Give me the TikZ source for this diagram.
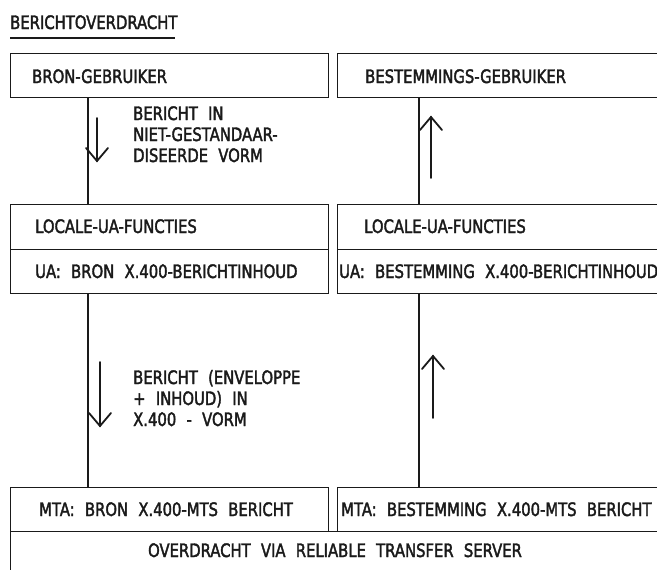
\documentclass[tikz,border=0pt]{standalone}
\usepackage{fontspec}
\setmainfont{DejaVu Sans}[FakeStretch=0.8, FakeBold=2]
\usetikzlibrary{calc}
\definecolor{ink}{HTML}{1A1A1A}
\newcommand{\gap}{\hspace{0.3em} }
\tikzset{
  box/.style={draw=ink, line width=1.3pt, rectangle, inner sep=0pt, anchor=north west},
  txt/.style={text=ink, inner sep=0pt, anchor=base west, font=\fontsize{18.5}{21}\selectfont},
  lbl/.style={txt, align=left},
  wire/.style={draw=ink, line width=1.3pt},
  flow/.style={draw=ink, line width=1.8pt, line cap=round, line join=miter}
}
% open V arrowhead: #1 = tip, #2 = +1 for a tip pointing down, -1 for up
\newcommand{\vhead}[2]{\draw[flow] ($(#1)+(-11,-13*#2)$) -- (#1) -- ($(#1)+(11,-13*#2)$);}
\begin{document}
\begin{tikzpicture}[x=1pt,y=-1pt]
\useasboundingbox (0,0) rectangle (657,570);
\fill[white] (0,0) rectangle (657,570);

% heading with its underline
\node[txt] (title) at (10,29) {BERICHTOVERDRACHT};
\coordinate (ulA) at (10,38);
\coordinate (ulB) at (175,38);
\draw[wire] (ulA) -- (ulB);

% user level
\node[box, minimum width=318, minimum height=44] (bron) at (10,53) {};
\node[box, minimum width=328, minimum height=44] (best) at (337,53) {};
\node[txt] (bronT) at (32,83) {BRON-GEBRUIKER};
\node[txt] (bestT) at (365,83) {BESTEMMINGS-GEBRUIKER};

% user agent level
\node[box, minimum width=318, minimum height=45] (locL) at (10,204) {};
\node[box, minimum width=318, minimum height=44] (uaL) at (10,249) {};
\node[box, minimum width=328, minimum height=45] (locR) at (337,204) {};
\node[box, minimum width=328, minimum height=44] (uaR) at (337,249) {};
\node[txt] (locLT) at (35,233) {LOCALE-UA-FUNCTIES};
\node[txt] (uaLT) at (35,278) {UA:\gap BRON\gap X.400-BERICHTINHOUD};
\node[txt] (locRT) at (364,233) {LOCALE-UA-FUNCTIES};
\node[txt] (uaRT) at (339,278) {UA:\gap BESTEMMING\gap X.400-BERICHTINHOUD};

% message transfer level
\node[box, minimum width=318, minimum height=44] (mtaL) at (10,487) {};
\node[box, minimum width=328, minimum height=44] (mtaR) at (337,487) {};
\node[box, minimum width=655, minimum height=60] (rts) at (10,531) {};
\node[txt] (mtaLT) at (39,516) {MTA:\gap BRON\gap X.400-MTS\gap BERICHT};
\node[txt] (mtaRT) at (341,516) {MTA:\gap BESTEMMING\gap X.400-MTS\gap BERICHT};
\node[txt, anchor=base] (rtsT) at (335,557) {OVERDRACHT\gap VIA\gap RELIABLE\gap TRANSFER\gap SERVER};

% vertical links between the levels
\coordinate (xl) at (88,0);
\coordinate (xr) at (419,0);
\draw[wire] (bron.south -| xl) -- (locL.north -| xl);
\draw[wire] (uaL.south -| xl) -- (mtaL.north -| xl);
\draw[wire] (best.south -| xr) -- (locR.north -| xr);
\draw[wire] (uaR.south -| xr) -- (mtaR.north -| xr);

% direction of the message flow
\coordinate (a1s) at (97,118);  \coordinate (a1e) at (97,161);
\coordinate (a2s) at (431,178); \coordinate (a2e) at (431,117);
\coordinate (a3s) at (100,362); \coordinate (a3e) at (100,426);
\coordinate (a4s) at (433,418); \coordinate (a4e) at (433,356);
\draw[flow] (a1s) -- (a1e); \vhead{a1e}{1}
\draw[flow] (a2s) -- (a2e); \vhead{a2e}{-1}
\draw[flow] (a3s) -- (a3e); \vhead{a3e}{1}
\draw[flow] (a4s) -- (a4e); \vhead{a4e}{-1}

% flow descriptions (anchored on the baseline of their last line)
\node[lbl] (m1) at (133,162) {BERICHT\gap IN\\NIET-GESTANDAAR-\\DISEERDE\gap VORM};
\node[lbl] (m2) at (133,426) {BERICHT\gap (ENVELOPPE\\+\gap INHOUD)\gap IN\\X.400\gap -\gap VORM};
\end{tikzpicture}
\end{document}
